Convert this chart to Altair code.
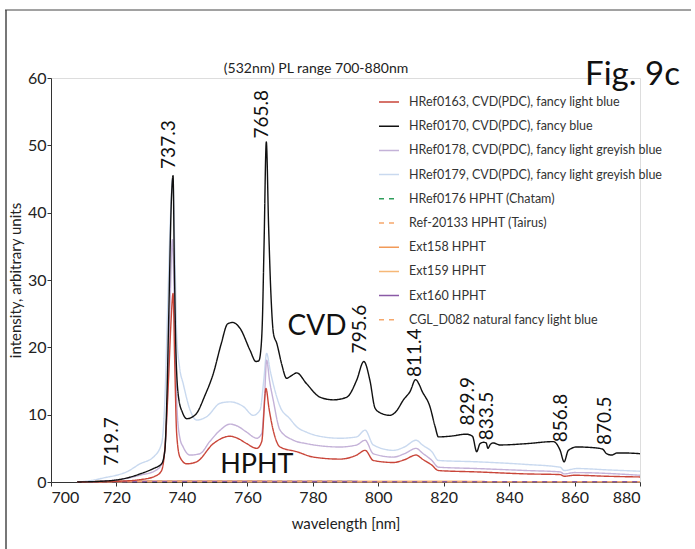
import altair as alt
import pandas as pd

FONT = "Lato"

series_names = [
    "HRef0163, CVD(PDC), fancy light blue",
    "HRef0170, CVD(PDC), fancy blue",
    "HRef0178, CVD(PDC), fancy light greyish blue",
    "HRef0179, CVD(PDC), fancy light greyish blue",
    "HRef0176 HPHT (Chatam)",
    "Ref-20133 HPHT (Tairus)",
    "Ext158 HPHT",
    "Ext159 HPHT",
    "Ext160 HPHT",
    "CGL_D082 natural fancy light blue",
]
series_colors = ["#c9463a", "#111111", "#c4b2d8", "#c9d9ef", "#2e9e5b",
                 "#f6a86c", "#f29a58", "#f6b877", "#8a5aa6", "#f6a86c"]
series_dash = [[1, 0], [1, 0], [1, 0], [1, 0], [5, 5], [5, 5],
               [1, 0], [1, 0], [1, 0], [5, 5]]

# HRef0163 (red)
wl_0163 = [708, 720, 728, 732, 733.8, 734.8, 735.9, 736.7, 737.3, 737.8, 738.4, 739.4,
           741.5, 744.5, 749.6, 754.7, 757, 759.8, 762.9, 764.4, 765.7, 766.6, 767.9,
           770, 775.1, 780.2, 788.3, 793.4, 796, 798.5, 804.6, 808, 811.6, 813.5,
           816.4, 818.4, 830, 845.4, 855.6, 856.8, 860, 870, 880]
in_0163 = [0, 0.1, 0.4, 0.9, 1.7, 5, 15, 24, 28, 18, 7.2, 3.7,
           2.7, 3.0, 5.7, 6.8, 6.5, 5.7, 5.0, 6.0, 13.9, 11, 7.7,
           5.2, 4.5, 3.7, 3.4, 4.0, 4.7, 3.2, 2.9, 3.3, 4.0, 3.4,
           2.5, 1.7, 1.5, 1.2, 1.1, 0.85, 1.0, 0.85, 0.75]

# HRef0170 (black)
wl_0170 = [708, 715, 720, 724, 727.2, 731.3, 733.8, 734.8, 735.4, 736.0, 736.8, 737.3,
           737.7, 738.2, 739.0, 740.2, 741.5, 743, 744.5, 747, 749.6, 752, 754, 755.5,
           757.8, 760.8, 762.6, 763.5, 764.1, 764.6, 765.1, 765.8, 766.5, 767.2, 768,
           769, 770.5, 772, 773.5, 775.1, 778.1, 782.2, 786.3, 790.4, 793.4, 795.6,
           797.5, 799, 800.5, 803.6, 805.5, 807.7, 809.8, 811.4, 812.5, 813.3, 815.8,
           817.4, 818.4, 822, 827, 828.8, 830.1, 831.1, 832.3, 833, 833.5, 834.3, 835.2,
           837.2, 845.4, 853.5, 855.6, 856.8, 858.1, 860.7, 865.7, 868.5, 869.8, 871.4,
           872.9, 876, 880]
in_0170 = [0, 0.1, 0.3, 0.7, 1.2, 2.0, 2.7, 4.7, 12.2, 25, 42, 45.5,
           32, 19, 12.5, 10.3, 9.4, 9.6, 10.2, 12.8, 16.1, 20.5, 23.5, 23.7,
           22.8, 19.6, 17.9, 18.0, 19.5, 24, 35, 50.5, 38, 28, 22,
           20.6, 17.5, 15.4, 15.8, 16.2, 14.6, 12.6, 12.2, 12.6, 15.1, 17.9,
           15, 11, 10.3, 9.9, 10.5, 12.2, 13.5, 15.2, 14.5, 13.6, 11.2,
           8.2, 6.7, 6.8, 7.1, 6.8, 4.5, 5.7, 5.9, 5.8, 5.0, 5.6, 5.8,
           5.5, 5.7, 6.0, 4.7, 3.0, 4.7, 5.2, 5.1, 4.9, 4.2, 4.0,
           4.3, 4.3, 4.2]

# HRef0178 (lavender)
wl_0178 = [708, 715, 720, 727.2, 732.3, 734.3, 735.4, 736.3, 737.1, 737.8, 738.5, 739.4,
           740.4, 742.5, 745.5, 748.5, 751.7, 754.7, 757, 759.8, 762.9, 764.4, 765.2,
           765.9, 766.8, 767.9, 770, 774.1, 778.1, 788.3, 793.4, 796, 798.5, 804.6,
           808, 811.6, 813.5, 816.4, 818.4, 830, 845.4, 855.6, 856.8, 860, 880]
in_0178 = [0, 0.1, 0.3, 1.0, 1.8, 3.2, 10, 25, 36, 24, 11, 6.5,
           5.2, 4.0, 4.2, 6.0, 7.7, 8.6, 8.3, 7.4, 6.5, 7.2, 12,
           18.1, 15, 12.2, 7.7, 6.2, 5.7, 5.2, 5.5, 6.2, 4.2, 3.7,
           4.2, 5.0, 4.3, 3.2, 2.2, 2.0, 1.7, 1.5, 1.2, 1.4, 1.0]

# HRef0179 (light blue)
wl_0179 = [708, 712, 717, 720, 723.1, 727.2, 731.3, 733.8, 734.8, 735.6, 736.4, 737.2,
           737.9, 738.4, 739.3, 740.4, 742.5, 744.5, 747.6, 751.7, 754.7, 758.8, 761.8,
           763.9, 765, 765.9, 767, 767.9, 770, 773, 775.1, 778.1, 783.2, 788.3, 793.4,
           796, 798.5, 804.6, 808, 811.6, 813.5, 816.4, 818.4, 830.1, 845.4, 855.6,
           856.8, 860.7, 870, 880]
in_0179 = [0, 0.2, 0.7, 1.0, 1.5, 2.7, 3.7, 5.7, 12.2, 25, 38, 45,
           33, 22, 17, 14.6, 10.7, 9.2, 9.7, 11.7, 11.9, 11.2, 9.9,
           10.7, 15, 19.1, 16.5, 14.6, 11.2, 9.4, 8.2, 7.4, 6.7, 6.5, 6.7,
           7.7, 5.5, 4.7, 5.2, 6.2, 5.5, 4.5, 3.2, 3.0, 2.6, 2.2,
           1.7, 2.0, 1.8, 1.6]

# HPHT and natural samples: flat near zero
wl_hpht = [708, 737, 766, 800, 840, 880]
in_0176 = [0.05, 0.1, 0.08, 0.06, 0.05, 0.05]
in_20133 = [0.05, 0.08, 0.07, 0.06, 0.05, 0.05]
in_ext158 = [0.05, 0.12, 0.1, 0.08, 0.06, 0.05]
in_ext159 = [0.05, 0.1, 0.08, 0.07, 0.06, 0.05]
in_ext160 = [0.05, 0.09, 0.08, 0.06, 0.05, 0.05]
in_cgl = [0.05, 0.08, 0.07, 0.06, 0.05, 0.05]

# peak labels
peak_labels = ["719.7", "737.3", "765.8", "795.6", "811.4", "829.9", "833.5", "856.8", "870.5"]
peak_x = [718.5, 736.0, 764.6, 794.3, 811.3, 827.3, 833.2, 855.9, 869.3]
peak_y = [2.4, 46.5, 51.0, 19.1, 15.6, 8.4, 6.2, 5.9, 5.5]

# draw order: HPHT first, then light curves, black on top
draw = [
    (series_names[4], wl_hpht, in_0176),
    (series_names[5], wl_hpht, in_20133),
    (series_names[6], wl_hpht, in_ext158),
    (series_names[7], wl_hpht, in_ext159),
    (series_names[8], wl_hpht, in_ext160),
    (series_names[9], wl_hpht, in_cgl),
    (series_names[3], wl_0179, in_0179),
    (series_names[2], wl_0178, in_0178),
    (series_names[0], wl_0163, in_0163),
    (series_names[1], wl_0170, in_0170),
]
rows = []
for order, (name, wls, vals) in enumerate(draw):
    for w, v in zip(wls, vals):
        rows.append({"series": name, "wl": w, "val": v, "grp": order})
df = pd.DataFrame(rows)

xscale = alt.Scale(domain=[700, 880], nice=False, zero=False)
yscale = alt.Scale(domain=[0, 60], nice=False)

legend_kw = dict(title=None, orient="none", legendX=327, legendY=13,
                 symbolType="stroke", symbolSize=400, symbolStrokeWidth=1.5,
                 labelFont=FONT, labelFontSize=12.5, labelColor="#333",
                 labelOffset=9, rowPadding=6.2, padding=0, labelLimit=400)

lines = alt.Chart(df).mark_line(strokeWidth=1.4, strokeJoin="round",
                                interpolate="monotone").encode(
    x=alt.X("wl:Q", scale=xscale,
            axis=alt.Axis(title="wavelength [nm]", values=list(range(700, 881, 20)),
                          grid=False, tickSize=4, labelPadding=3, labelFontSize=16,
                          labelFont=FONT, labelColor="#222", domainColor="#333",
                          tickColor="#333", titleFont=FONT, titleFontSize=15,
                          titleFontWeight="normal", titleColor="#222", titlePadding=11)),
    y=alt.Y("val:Q", scale=yscale,
            axis=alt.Axis(title="intensity, arbitrary units", values=list(range(0, 61, 10)),
                          grid=False, tickSize=4, labelPadding=1, labelFontSize=16,
                          labelFont=FONT, labelColor="#222", domainColor="#333",
                          tickColor="#333", titleFont=FONT, titleFontSize=15,
                          titleFontWeight="normal", titleColor="#222", titlePadding=4)),
    color=alt.Color("series:N", scale=alt.Scale(domain=series_names, range=series_colors),
                    legend=alt.Legend(**legend_kw)),
    strokeDash=alt.StrokeDash("series:N", scale=alt.Scale(domain=series_names, range=series_dash),
                              legend=alt.Legend(**legend_kw)),
    detail="grp:O",
)

pk = pd.DataFrame({"label": peak_labels, "wl": peak_x, "val": peak_y})
peaks = alt.Chart(pk).mark_text(angle=270, align="left", baseline="middle",
                                fontSize=19, font=FONT, color="#111").encode(
    x=alt.X("wl:Q", scale=xscale), y=alt.Y("val:Q", scale=yscale), text="label:N")

ann_text = ["CVD", "HPHT"]
ann_x = [781.3, 762.9]
ann_y = [23.0, 2.5]
ann_size = [28, 27]
ann = pd.DataFrame({"t": ann_text, "wl": ann_x, "val": ann_y, "s": ann_size})
big = alt.Chart(ann).mark_text(align="center", baseline="middle", font=FONT,
                               color="#111").encode(
    x=alt.X("wl:Q", scale=xscale), y=alt.Y("val:Q", scale=yscale), text="t:N",
    size=alt.Size("s:Q", scale=None, legend=None))

title_df = pd.DataFrame({"t": ["(532nm) PL range 700-880nm"], "wl": [781.0], "val": [61.3]})
title = alt.Chart(title_df).mark_text(align="center", baseline="middle", font=FONT,
                                      fontSize=14, color="#222").encode(
    x=alt.X("wl:Q", scale=xscale), y=alt.Y("val:Q", scale=yscale), text="t:N")

fig_df = pd.DataFrame({"t": ["Fig. 9c"], "wl": [892.2], "val": [58.9]})
fig = alt.Chart(fig_df).mark_text(align="right", baseline="alphabetic", font=FONT,
                                  fontSize=33, color="#111").encode(
    x=alt.X("wl:Q", scale=xscale), y=alt.Y("val:Q", scale=yscale), text="t:N")

frame_left = alt.Chart(pd.DataFrame({"a": [0]})).mark_rule(color="#777", strokeWidth=2).encode(
    x=alt.value(-45), y=alt.value(-68), y2=alt.value(480))
frame_top = alt.Chart(pd.DataFrame({"a": [0]})).mark_rule(color="#444", strokeWidth=1).encode(
    x=alt.value(-46), x2=alt.value(640), y=alt.value(-68))

chart = alt.layer(frame_left, frame_top, lines, peaks, big, title, fig).properties(
    width=589, height=404,
    autosize=alt.AutoSizeParams(type="none"),
    padding={"left": 51, "top": 78, "right": 55, "bottom": 67},
).configure_view(stroke=None).configure(background="white")

chart.save("out.html", embed_options={"renderer": "svg", "actions": False})
